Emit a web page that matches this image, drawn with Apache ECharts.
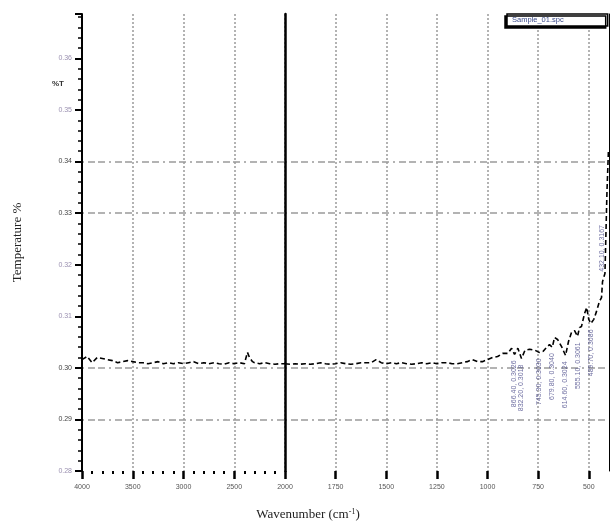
<!DOCTYPE html>
<html>
<head>
<meta charset="utf-8">
<script src="https://cdn.jsdelivr.net/npm/echarts@6/dist/echarts.min.js"></script>
<style>
  html, body { margin: 0; padding: 0; background: #fff; }
  #chart { width: 610px; height: 527px; }
</style>
</head>
<body>
<div id="chart"></div>
<script>
//****************************** Data *******************************************************//

var seriesName = "Sample_01.spc";

// wavenumber (cm-1), high to low
var wavenumbers = [
  4000, 3950, 3900, 3850, 3800, 3750, 3700, 3650, 3600, 3550, 3500, 3450, 3400, 3350, 3300,
  3250, 3200, 3150, 3100, 3050, 3000, 2950, 2900, 2850, 2800, 2750, 2700, 2650, 2600, 2550,
  2500, 2450, 2400, 2370, 2350, 2320, 2300, 2250, 2200, 2150, 2100, 2050, 2000,
  1975, 1950, 1925, 1900, 1875, 1850, 1825, 1800, 1775, 1750, 1725, 1700, 1675, 1650, 1625,
  1600, 1575, 1550, 1525, 1500, 1475, 1450, 1425, 1400, 1375, 1350, 1325, 1300, 1275, 1250,
  1225, 1200, 1175, 1150, 1125, 1100, 1075, 1050, 1025, 1000, 975, 950, 925, 900, 881,
  866.4, 850, 832.2, 815, 792, 765, 745.3, 725, 708, 694, 679.8, 669, 654, 634, 614.6,
  600, 585, 570, 555.1, 546, 536, 521, 510, 500, 489.7, 475, 462, 447, 437, 432.1,
  420, 410, 403
];

var transmittance = [
  0.3016, 0.3022, 0.3010, 0.3020, 0.3018, 0.3016, 0.3014, 0.3010, 0.3012, 0.3014, 0.3012, 0.3010, 0.3010, 0.3008, 0.3010,
  0.3012, 0.3008, 0.3010, 0.3008, 0.3010, 0.3008, 0.3010, 0.3012, 0.3008, 0.3010, 0.3008, 0.3010, 0.3008, 0.3007, 0.3010,
  0.3008, 0.3010, 0.3008, 0.3030, 0.3020, 0.3012, 0.3010, 0.3008, 0.3010, 0.3008, 0.3007, 0.3008, 0.3008,
  0.3007, 0.3008, 0.3007, 0.3008, 0.3007, 0.3008, 0.3010, 0.3008, 0.3007, 0.3008, 0.3010, 0.3008, 0.3007, 0.3008, 0.3010,
  0.3010, 0.3010, 0.3016, 0.3010, 0.3008, 0.3010, 0.3008, 0.3010, 0.3008, 0.3007, 0.3008, 0.3010, 0.3008, 0.3010, 0.3008,
  0.3010, 0.3010, 0.3008, 0.3008, 0.3010, 0.3012, 0.3016, 0.3012, 0.3012, 0.3016, 0.3020, 0.3022, 0.3028, 0.3028, 0.3038,
  0.3026, 0.3038, 0.3018, 0.3034, 0.3036, 0.3034, 0.3030, 0.3032, 0.3040, 0.3045, 0.3040, 0.3059, 0.3055, 0.3041, 0.3024,
  0.3051, 0.3069, 0.3072, 0.3061, 0.3078, 0.3080, 0.3105, 0.3117, 0.3094, 0.3086, 0.3094, 0.3109, 0.3129, 0.3136, 0.3167,
  0.3183, 0.3342, 0.3419
];

// picked peaks (labels under the trace), and the one labelled above it
var peaksBelow = [866.4, 832.2, 745.3, 679.8, 614.6, 555.1, 489.7];
var peaksAbove = [432.1];

// axis ticks
var xTicksHigh = [4000, 3500, 3000, 2500, 2000];
var xTicksLow = [1750, 1500, 1250, 1000, 750, 500];
var yTicks = [0.28, 0.29, 0.30, 0.31, 0.32, 0.33, 0.34, 0.35, 0.36];
var yGridded = [0.29, 0.30, 0.33, 0.34];

//****************************** Build series *************************************//

var spectrum = wavenumbers.map(function (w, i) {
  return [w, transmittance[i]];
});
var highPart = spectrum.filter(function (p) { return p[0] >= 2000; });
var lowPart = spectrum.filter(function (p) { return p[0] <= 2000; });

function peakPoints(list) {
  return list.map(function (w) {
    return [w, transmittance[wavenumbers.indexOf(w)]];
  });
}

function isGridded(v) {
  return yGridded.some(function (g) { return Math.abs(g - v) < 1e-6; });
}

// one colour per drawn horizontal split line, bottom to top (last one is the axis max)
var hLineColors = yTicks.map(function (v) {
  return isGridded(v) ? "#9a9a9a" : "rgba(0,0,0,0)";
});
hLineColors.push("rgba(0,0,0,0)");

var hSplit = {
  show: true,
  lineStyle: { color: hLineColors, width: 1.5, type: [2, 4, 7, 3, 7, 4] },
};
var vSplit = {
  show: true,
  lineStyle: { color: "#9a9a9a", width: 1.5, type: [2, 2] },
};

var yMin = 0.28;
var yMax = 0.3686;
var labelFont = "Liberation Sans";

function peakLabel(params) {
  return params.data[0].toFixed(2) + ", " + params.data[1].toFixed(4);
}

function plainNumber(v) {
  return String(v);
}

var option = {
  animation: false,
  backgroundColor: "#fff",
  legend: {
    left: 507,
    top: 14,
    data: [{ name: seriesName, icon: "none" }],
    itemWidth: 0,
    itemHeight: 0,
    itemGap: 0,
    padding: [2, 44, 2, 0],
    backgroundColor: "#fff",
    borderColor: "#000",
    borderWidth: 1.5,
    borderRadius: 0,
    shadowColor: "#000",
    shadowBlur: 0,
    shadowOffsetX: -2,
    shadowOffsetY: 2,
    textStyle: { fontSize: 7.5, color: "#3a4a8a", fontFamily: labelFont },
  },
  grid: [
    { left: 82, top: 14, width: 203, bottom: 56 },
    { left: 285, top: 14, width: 324, bottom: 56 },
  ],
  xAxis: [
    {
      gridIndex: 0,
      type: "value",
      inverse: true,
      min: 2000,
      max: 4000,
      interval: 500,
      axisLine: { show: false },
      axisTick: { length: 8, lineStyle: { color: "#000", width: 2.5 } },
      minorTick: { show: true, splitNumber: 5, length: 3, lineStyle: { color: "#000", width: 2 } },
      axisLabel: { fontSize: 7, color: "#555", margin: 13, fontFamily: labelFont, formatter: plainNumber },
      splitLine: vSplit,
    },
    {
      gridIndex: 1,
      type: "value",
      inverse: true,
      min: 400,
      max: 2000,
      axisLine: { show: false },
      axisTick: { customValues: xTicksLow, length: 8, lineStyle: { color: "#000", width: 2.5 } },
      axisLabel: {
        customValues: xTicksLow,
        fontSize: 7,
        color: "#555",
        margin: 13,
        fontFamily: labelFont,
        formatter: plainNumber,
      },
      splitLine: vSplit,
    },
  ],
  yAxis: [
    {
      gridIndex: 0,
      type: "value",
      min: yMin,
      max: yMax,
      interval: 0.01,
      name: "Temperature %",
      nameLocation: "middle",
      nameGap: 58,
      nameTextStyle: { fontFamily: "Liberation Serif", fontSize: 13, color: "#222" },
      axisLine: { show: true, lineStyle: { color: "#000", width: 2 } },
      axisTick: { show: true, length: 7, lineStyle: { color: "#000", width: 2 } },
      minorTick: { show: true, splitNumber: 5, length: 4, lineStyle: { color: "#000", width: 1.5 } },
      axisLabel: {
        fontSize: 7,
        margin: 10,
        fontFamily: labelFont,
        showMaxLabel: false,
        formatter: function (v) { return v.toFixed(2); },
        color: function (v) { return isGridded(+v) ? "#444" : "#9a90b0"; },
      },
      splitLine: hSplit,
    },
    {
      gridIndex: 1,
      type: "value",
      min: yMin,
      max: yMax,
      interval: 0.01,
      axisLine: { show: true, lineStyle: { color: "#000", width: 2.5 } },
      axisTick: { show: false },
      axisLabel: { show: false },
      splitLine: hSplit,
    },
    {
      gridIndex: 1,
      type: "value",
      position: "right",
      min: yMin,
      max: yMax,
      axisLine: { show: true, lineStyle: { color: "#000", width: 1 } },
      axisTick: { show: false },
      axisLabel: { show: false },
      splitLine: { show: false },
    },
  ],
  graphic: [
    {
      type: "text",
      x: 52,
      y: 80,
      style: { text: "%T", font: "bold 8px Liberation Sans", fill: "#333" },
    },
    {
      type: "text",
      x: 308,
      y: 515,
      style: {
        text: "{a|Wavenumber (cm}{s|-1}{a|)}",
        align: "center",
        verticalAlign: "middle",
        rich: {
          a: { fontFamily: "Liberation Serif", fontSize: 13, fill: "#222" },
          s: { fontFamily: "Liberation Serif", fontSize: 8, fill: "#222", padding: [0, 0, 7, 0] },
        },
      },
    },
  ],
  series: [
    {
      name: seriesName,
      type: "line",
      xAxisIndex: 0,
      yAxisIndex: 0,
      data: highPart,
      showSymbol: false,
      lineStyle: { color: "#000", width: 1.6, type: [5, 3] },
    },
    {
      name: seriesName,
      type: "line",
      xAxisIndex: 1,
      yAxisIndex: 1,
      data: lowPart,
      showSymbol: false,
      lineStyle: { color: "#000", width: 1.6, type: [5, 3] },
    },
    {
      type: "scatter",
      xAxisIndex: 1,
      yAxisIndex: 1,
      data: peakPoints(peaksBelow),
      symbolSize: 0,
      label: {
        show: true,
        position: "bottom",
        distance: 6,
        rotate: 90,
        align: "right",
        verticalAlign: "middle",
        fontSize: 7,
        fontFamily: labelFont,
        color: "#4a4a8a",
        formatter: peakLabel,
      },
    },
    {
      type: "scatter",
      xAxisIndex: 1,
      yAxisIndex: 1,
      data: peakPoints(peaksAbove),
      symbolSize: 0,
      label: {
        show: true,
        position: "top",
        distance: 10,
        rotate: 90,
        align: "left",
        verticalAlign: "middle",
        fontSize: 7,
        fontFamily: labelFont,
        color: "#4a4a8a",
        formatter: peakLabel,
      },
    },
  ],
};

var myChart = echarts.init(document.getElementById("chart"), null, { renderer: "canvas" });
myChart.setOption(option);
</script>
</body>
</html>
